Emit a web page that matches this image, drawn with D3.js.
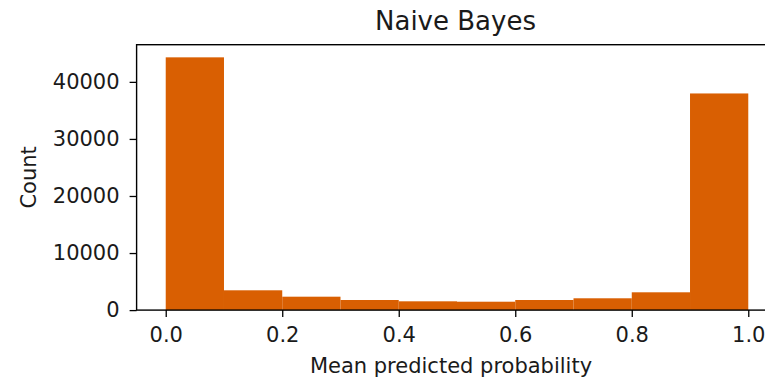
<!DOCTYPE html>
<html>
<head>
<meta charset="utf-8">
<script src="https://cdn.jsdelivr.net/npm/d3@7"></script>
<style>
  html, body { margin: 0; padding: 0; background: #fff; }
  svg { display: block; }
  text { font-family: "DejaVu Sans", sans-serif; fill: #1a1a1a; }
</style>
</head>
<body>
<svg id="chart" width="765" height="380"></svg>
<script>
// Histogram of mean predicted probabilities for the Naive Bayes model
const binEdges = [0.0, 0.1, 0.2, 0.3, 0.4, 0.5, 0.6, 0.7, 0.8, 0.9, 1.0];
const binCounts = [44300, 3470, 2350, 1770, 1540, 1470, 1770, 2070, 3120, 37970];
const xTicks = [0.0, 0.2, 0.4, 0.6, 0.8, 1.0];
const yTicks = [0, 10000, 20000, 30000, 40000];
const titleText = "Naive Bayes";
const xLabel = "Mean predicted probability";
const yLabel = "Count";

const barColor = "#d95f02";
const labelSize = 21;

const svg = d3.select("#chart");
svg.append("rect").attr("width", 765).attr("height", 380).attr("fill", "#fff");

const plot = { left: 136.6, right: 777.4, top: 44.7, bottom: 310.1 };

const bins = binCounts.map((c, i) => ({ x0: binEdges[i], x1: binEdges[i + 1], count: c }));

const x = d3.scaleLinear().domain([-0.05, 1.05]).range([plot.left, plot.right]);
const y = d3.scaleLinear().domain([0, d3.max(binCounts) * 1.05]).range([plot.bottom, plot.top]);

// bars
svg.append("g")
  .selectAll("rect")
  .data(bins)
  .join("rect")
  .attr("x", d => x(d.x0))
  .attr("width", d => x(d.x1) - x(d.x0))
  .attr("y", d => y(d.count))
  .attr("height", d => y(0) - y(d.count))
  .attr("fill", barColor);

// axes
const xAxis = d3.axisBottom(x)
  .tickValues(xTicks)
  .tickFormat(d3.format(".1f"))
  .tickSize(7)
  .tickPadding(10);

const yAxis = d3.axisLeft(y)
  .tickValues(yTicks)
  .tickFormat(d3.format("d"))
  .tickSize(7)
  .tickPadding(10);

const gx = svg.append("g").attr("transform", `translate(0,${plot.bottom})`).call(xAxis);
const gy = svg.append("g").attr("transform", `translate(${plot.left},0)`).call(yAxis);

[gx, gy].forEach(g => {
  g.select(".domain").remove();
  g.selectAll(".tick line").attr("stroke", "#000").attr("stroke-width", 1.3);
  g.selectAll(".tick text")
    .style("font-family", "'DejaVu Sans', sans-serif")
    .style("font-size", labelSize + "px")
    .attr("fill", "#1a1a1a");
});

// spines
svg.append("rect")
  .attr("x", plot.left)
  .attr("y", plot.top)
  .attr("width", plot.right - plot.left)
  .attr("height", plot.bottom - plot.top)
  .attr("fill", "none")
  .attr("stroke", "#000")
  .attr("stroke-width", 1.4);

// title and axis labels
svg.append("text")
  .attr("x", 455.5)
  .attr("y", 29.5)
  .attr("text-anchor", "middle")
  .style("font-size", "26px")
  .text(titleText);

svg.append("text")
  .attr("x", 451)
  .attr("y", 373)
  .attr("text-anchor", "middle")
  .style("font-size", labelSize + "px")
  .text(xLabel);

svg.append("text")
  .attr("transform", `translate(36,${(plot.top + plot.bottom) / 2}) rotate(-90)`)
  .attr("text-anchor", "middle")
  .style("font-size", labelSize + "px")
  .text(yLabel);
</script>
</body>
</html>
